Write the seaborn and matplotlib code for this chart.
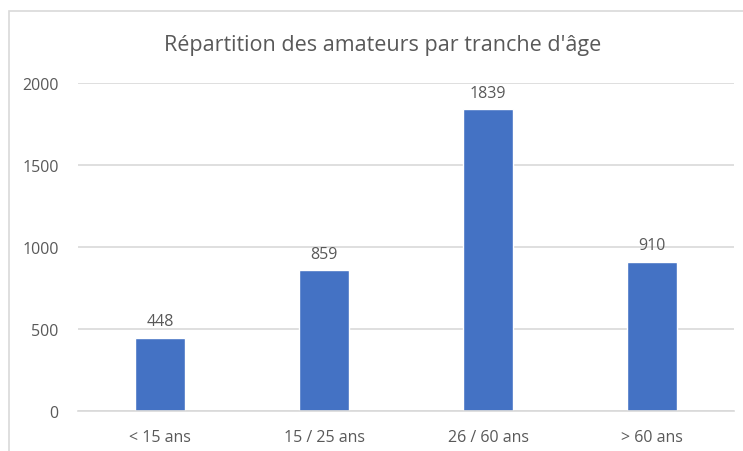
import pandas as pd
import matplotlib.pyplot as plt
import seaborn as sns
from matplotlib.patches import Rectangle

# données
tranches = ["< 15 ans", "15 / 25 ans", "26 / 60 ans", "> 60 ans"]
amateurs = [448, 859, 1839, 910]

df = pd.DataFrame({"tranche": tranches, "amateurs": amateurs})

sns.set_style("white")
plt.rcParams['font.family'] = ['Open Sans', 'DejaVu Sans']

W, H = 743, 452
fig = plt.figure(figsize=(W / 100, H / 100), dpi=100)
ax = fig.add_axes([78 / W, 1 - 412 / H, 656 / W, 328 / H])

sns.barplot(data=df, x="tranche", y="amateurs", color="#4472C4",
            width=0.305, saturation=1, ax=ax)

ax.set_ylim(0, 2000)
ax.set_yticks([0, 500, 1000, 1500, 2000])
ax.set_xlim(-0.5, 3.5)
ax.yaxis.grid(True, color="#D9D9D9", linewidth=1.2)
ax.set_axisbelow(True)
sns.despine(ax=ax, left=True, top=True, right=True, bottom=False)
ax.spines["bottom"].set_color("#D9D9D9")
ax.spines["bottom"].set_linewidth(1.2)
ax.tick_params(length=0, labelsize=11.5, colors="#595959", pad=14)
ax.tick_params(axis="x", pad=13)
ax.set_xlabel("")
ax.set_ylabel("")

for i, v in enumerate(amateurs):
    ax.annotate(str(v), (i, v), xytext=(0, 6), textcoords="offset points",
                ha="center", va="bottom", fontsize=11.5, color="#595959")

fig.text(383 / W, 1 - 45 / H, "Répartition des amateurs par tranche d'âge",
         ha="center", va="center", fontsize=15.5, color="#595959")

# cadre de la zone du graphique
fig.patches.append(Rectangle((9 / W, -0.1), 1.2, 1 - 12 / H + 0.1,
                             transform=fig.transFigure, fill=False,
                             edgecolor="#D9D9D9", linewidth=1.2))

plt.savefig("out.png", dpi=100)
